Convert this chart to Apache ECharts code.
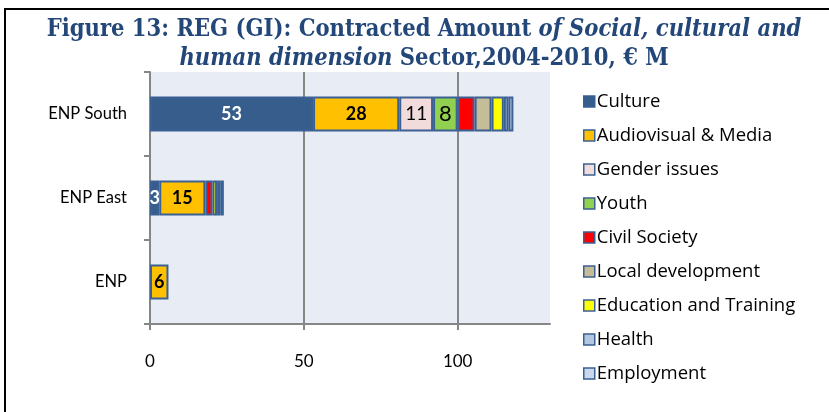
<!DOCTYPE html>
<html>
<head>
<meta charset="utf-8">
<script src="https://cdn.jsdelivr.net/npm/echarts@6/dist/echarts.min.js"></script>
<style>
html,body{margin:0;padding:0;background:#fff;}
#chart{width:829px;height:412px;}
</style>
</head>
<body>
<div id="chart"></div>
<script>
// categories, bottom to top (Excel order)
var regions = ['ENP', 'ENP East', 'ENP South'];
var xTicks = [0, 50, 100];

// values in € M
var culture    = [null, 3, 53];
var audiovisual = [6, 15, 28];
var gender     = [null, null, 11];
var youth      = [null, null, 8];
var civil      = [null, 2.3, 5.5];
var localDev   = [null, null, 5.5];
var education  = [null, 1.5, 4];
var health     = [null, 1.2, 1.5];
var employment = [null, 1, 1.6];

var seriesNames = ['Culture', 'Audiovisual & Media', 'Gender issues', 'Youth', 'Civil Society',
	'Local development', 'Education and Training', 'Health', 'Employment'];
var seriesData = [culture, audiovisual, gender, youth, civil, localDev, education, health, employment];
var seriesColors = ['#375d8c', '#ffc000', '#f2dcdb', '#92d050', '#ff0000', '#c4bd97', '#ffff00', '#b3c6e0', '#c9d8ec'];

var borderCol = '#3b6094';
var uiFont = 'Lato';
var titleFont = 'DejaVu Serif Condensed';

// label style per series (only the first four carry value labels)
var labelStyles = [
	{show: true, color: '#fff', fontWeight: 'bold', fontSize: 18},
	{show: true, color: '#000', fontWeight: 'bold', fontSize: 18},
	{show: true, color: '#000', fontWeight: 'normal', fontSize: 19},
	{show: true, color: '#000', fontWeight: 'normal', fontSize: 22}
];

var series = [];
for (var i = 0; i < seriesNames.length; i++) {
	var lbl = labelStyles[i] ? labelStyles[i] : {show: false};
	lbl.position = 'inside';
	lbl.fontFamily = uiFont;
	series.push({
		name: seriesNames[i],
		type: 'bar',
		stack: 'total',
		barWidth: 35,
		data: seriesData[i],
		itemStyle: {color: seriesColors[i], borderColor: borderCol, borderWidth: 2},
		label: lbl,
		emphasis: {disabled: true}
	});
}

var chart = echarts.init(document.getElementById('chart'));
var option = {
	animation: false,
	graphic: [{
		type: 'rect',
		shape: {x: 5, y: 9, width: 840, height: 420},
		style: {fill: 'none', stroke: '#000', lineWidth: 2},
		silent: true
	}, {
		// title drawn as text so it can sit slightly right of centre, as in the original
		type: 'text',
		x: 424,
		y: 15,
		silent: true,
		style: {
			text: '{b|Figure 13: REG (GI): Contracted Amount }{i|of Social, cultural and}\n{i|human dimension}{b| Sector,2004-2010, € M}',
			align: 'center',
			rich: {
				b: {fontFamily: titleFont, fontWeight: 'bold', fontSize: 23.5, fill: '#24477a', lineHeight: 29},
				i: {fontFamily: titleFont, fontWeight: 'bold', fontStyle: 'italic', fontSize: 23.5, fill: '#24477a', lineHeight: 29}
			}
		}
	}],
	legend: {
		orient: 'vertical',
		left: 578,
		top: 86,
		itemWidth: 11,
		itemHeight: 11,
		itemGap: 13,
		icon: 'rect',
		itemStyle: {borderColor: borderCol, borderWidth: 1.5},
		textStyle: {fontFamily: 'Open Sans', fontSize: 18.5, color: '#000', lineHeight: 21, padding: [0, 0, 0, -3]},
		data: seriesNames
	},
	grid: {
		left: 150,
		right: 279,
		top: 72,
		bottom: 88,
		show: true,
		backgroundColor: '#e8ecf4',
		borderWidth: 0,
		containLabel: false
	},
	xAxis: {
		type: 'value',
		min: 0,
		max: 130,
		interval: 50,
		axisLine: {show: true, lineStyle: {color: '#868686', width: 2}},
		axisTick: {show: true, length: 6, customValues: xTicks, lineStyle: {color: '#868686', width: 2}},
		axisLabel: {customValues: xTicks, margin: 29, fontFamily: uiFont, fontSize: 17, color: '#000'},
		splitLine: {show: true, lineStyle: {color: '#868686', width: 2}}
	},
	yAxis: {
		type: 'category',
		data: regions,
		axisLine: {show: true, lineStyle: {color: '#868686', width: 2}},
		axisTick: {show: true, length: 6, lineStyle: {color: '#868686', width: 2}},
		axisLabel: {margin: 23, fontFamily: uiFont, fontSize: 16.5, color: '#000'}
	},
	series: series
};
chart.setOption(option);
</script>
</body>
</html>
